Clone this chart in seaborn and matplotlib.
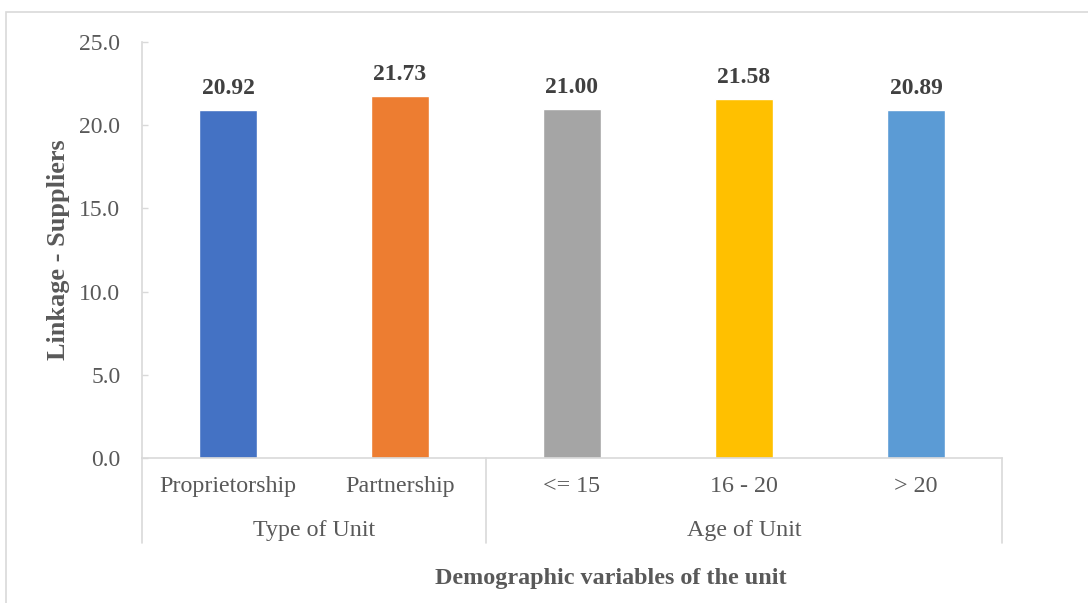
import matplotlib
matplotlib.use("Agg")
import matplotlib.pyplot as plt
from matplotlib.patches import Rectangle
import seaborn as sns
import pandas as pd

# Mean "Linkage - Suppliers" score by unit characteristics
categories = ["Proprietorship", "Partnership", "<= 15", "16 - 20", "> 20"]
groups = ["Type of Unit", "Type of Unit", "Age of Unit", "Age of Unit", "Age of Unit"]
values = [20.92, 21.73, 21.00, 21.58, 20.89]
bar_colors = ["#4472C4", "#ED7D31", "#A5A5A5", "#FFC000", "#5B9BD5"]
y_ticks = [0, 5, 10, 15, 20, 25]

df = pd.DataFrame({"category": categories, "group": groups, "value": values})

sns.set_theme(style="white")
plt.rcParams["font.family"] = ["Liberation Serif", "DejaVu Serif"]

W, H, DPI = 1088, 603, 100
fig = plt.figure(figsize=(W / DPI, H / DPI), dpi=DPI)
ax = fig.add_axes([142 / W, 1 - 458 / H, (1002 - 142) / W, (458 - 42) / H])

sns.barplot(data=df, x="category", y="value", hue="category", order=categories,
            hue_order=categories, palette=bar_colors, width=0.34, saturation=1,
            legend=False, ax=ax)

text_grey = "#595959"
line_grey = "#D9D9D9"

ax.set_ylim(0, 25)
ax.set_xlim(-0.5, len(categories) - 0.5)
ax.set_yticks(y_ticks)
ax.set_yticklabels([f"{t:.1f}" for t in y_ticks], fontsize=17, color=text_grey)
ax.tick_params(axis="y", direction="in", length=4.5, width=1, color=line_grey,
               pad=15.5, left=True)
ax.set_xticks(range(len(categories)))
ax.set_xticklabels(categories, fontsize=17.3, color=text_grey)
ax.tick_params(axis="x", length=0, pad=13)
ax.set_xlabel("")
ax.set_ylabel("")

for side in ["top", "right"]:
    ax.spines[side].set_visible(False)
for side in ["left", "bottom"]:
    ax.spines[side].set_color(line_grey)
    ax.spines[side].set_linewidth(1.2)

# value labels above bars
for i, v in enumerate(values):
    ax.annotate(f"{v:.2f}", xy=(i, v), xytext=(0, 16), textcoords="offset pixels",
                ha="center", va="baseline", fontsize=17, fontweight="bold",
                color="#404040")

# second level of the category axis: group names and separators
xform = ax.get_xaxis_transform()
group_names = []
for g in groups:
    if g not in group_names:
        group_names.append(g)
edges = [-0.5]
for g in group_names:
    idx = [i for i, gg in enumerate(groups) if gg == g]
    center = (idx[0] + idx[-1]) / 2
    ax.annotate(g, xy=(center, 0), xycoords=xform, xytext=(0, -78),
                textcoords="offset pixels", ha="center", va="baseline",
                fontsize=17.3, color=text_grey, annotation_clip=False)
    edges.append(idx[-1] + 0.5)
sep_depth = 85 / (458 - 42)
for e in edges:
    ax.plot([e, e], [0, -sep_depth], transform=xform, color=line_grey,
            lw=1.2, clip_on=False)

fig.text(611 / W, 1 - 584 / H, "Demographic variables of the unit", ha="center",
         va="baseline", fontsize=17.4, fontweight="bold", color=text_grey)
fig.text(58 / W, 1 - 250 / H, "Linkage - Suppliers", ha="center", va="center",
         rotation=90, fontsize=18.9, fontweight="bold", color=text_grey)

# chart area border
fig.patches.append(Rectangle((6 / W, -0.1), 1.0, 1 - 12 / H + 0.1,
                             transform=fig.transFigure, fill=False,
                             edgecolor=line_grey, lw=1.2))

fig.savefig("out.png", dpi=DPI)
